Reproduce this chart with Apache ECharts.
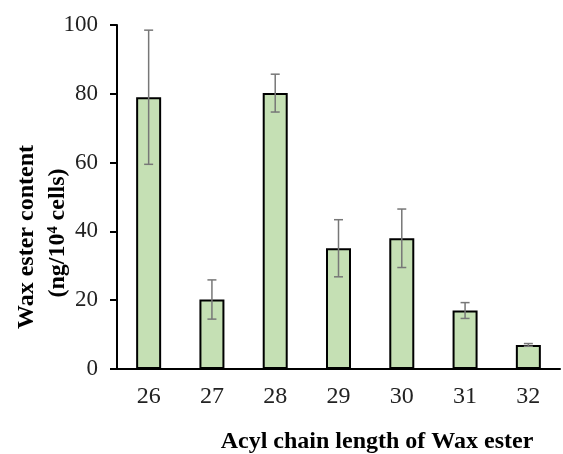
<!DOCTYPE html>
<html><head><meta charset="utf-8">
<script src="https://cdn.jsdelivr.net/npm/echarts@6/dist/echarts.min.js"></script>
<style>html,body{margin:0;padding:0;background:#fff}#c{width:563px;height:454px}</style>
</head><body><div id="c"></div>
<script>
const categories = ['26','27','28','29','30','31','32'];
const means = [79, 20.2, 80.2, 35.1, 38.0, 17.0, 7.0];
const errors = [19.5, 5.7, 5.5, 8.3, 8.5, 2.3, 0.4];
const yTicks = [0, 20, 40, 60, 80, 100];
const yTitle = ['Wax ester content', '(ng/10\u2074 cells)'];
const xTitle = 'Acyl chain length of Wax ester';

const chart = echarts.init(document.getElementById('c'));
const font = '"Liberation Serif", "Times New Roman", serif';
chart.setOption({
  animation: false,
  grid: {left: 117, right: 3, top: 25, bottom: 85},
  xAxis: {
    type: 'category', data: categories,
    axisLine: {lineStyle: {color: '#000', width: 2}},
    axisTick: {show: false},
    axisLabel: {fontFamily: font, fontSize: 24, color: '#222', margin: 16}
  },
  yAxis: {
    type: 'value', min: yTicks[0], max: yTicks[yTicks.length-1], interval: 20,
    axisLine: {show: true, lineStyle: {color: '#000', width: 2}},
    axisTick: {show: true, length: 7, lineStyle: {color: '#000', width: 2}},
    splitLine: {show: false},
    axisLabel: {fontFamily: font, fontSize: 23, color: '#222', margin: 19}
  },
  graphic: [{
    type: 'text', x: 27, y: 237, rotation: Math.PI / 2,
    style: {text: yTitle[0], font: 'bold 24px ' + font, fill: '#000', textAlign: 'center', textVerticalAlign: 'middle'}
  }, {
    type: 'text', x: 58, y: 233, rotation: Math.PI / 2,
    style: {text: yTitle[1], font: 'bold 24px ' + font, fill: '#000', textAlign: 'center', textVerticalAlign: 'middle'}
  }, {
    type: 'text', x: 377, y: 442,
    style: {text: xTitle, font: 'bold 24px ' + font, fill: '#000', textAlign: 'center', textVerticalAlign: 'middle'}
  }],
  series: [{
    type: 'bar', data: means, barWidth: 25,
    itemStyle: {color: '#c5e0b4', borderColor: '#000', borderWidth: 2}
  }, {
    type: 'custom',
    data: means.map((m, i) => [i, m - errors[i], m + errors[i]]),
    renderItem: function (params, api) {
      const lo = api.coord([api.value(0), api.value(1)]);
      const hi = api.coord([api.value(0), api.value(2)]);
      const w = 4.5;
      const st = {stroke: '#777', lineWidth: 1.5};
      return {type: 'group', children: [
        {type: 'line', shape: {x1: hi[0], y1: hi[1], x2: lo[0], y2: lo[1]}, style: st},
        {type: 'line', shape: {x1: hi[0]-w, y1: hi[1], x2: hi[0]+w, y2: hi[1]}, style: st},
        {type: 'line', shape: {x1: lo[0]-w, y1: lo[1], x2: lo[0]+w, y2: lo[1]}, style: st}
      ]};
    },
    z: 10
  }]
});
</script></body></html>
